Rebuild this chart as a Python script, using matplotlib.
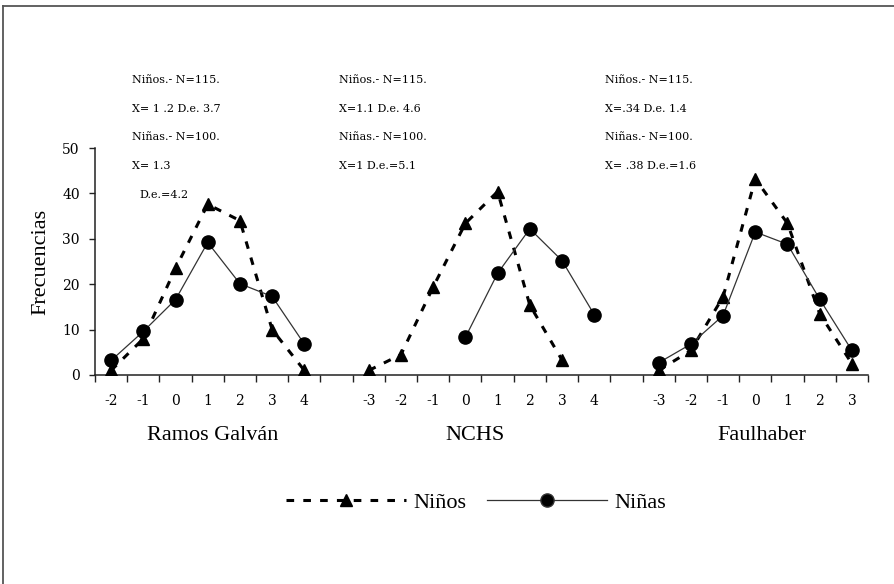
import matplotlib
matplotlib.use("Agg")
import matplotlib.pyplot as plt
from matplotlib.lines import Line2D
import matplotlib.transforms as mtransforms
import numpy as np

# ---------------- data ----------------
ramos_x = [-2, -1, 0, 1, 2, 3, 4]
ramos_ninos = [1, 8, 23.5, 37.6, 34, 10, 1]
ramos_ninas = [3.2, 9.6, 16.6, 29.2, 20.1, 17.3, 6.8]

nchs_x = [-3, -2, -1, 0, 1, 2, 3, 4]
nchs_ninos = [1, 4.5, 19.4, 33.4, 40.4, 15.4, 3.3, None]
nchs_ninas = [None, None, None, 8.3, 22.4, 32.2, 25.2, 13.3]

faul_x = [-3, -2, -1, 0, 1, 2, 3]
faul_ninos = [1, 5.4, 17.2, 43.2, 33.4, 13.5, 2.5]
faul_ninas = [2.7, 6.8, 13.1, 31.5, 28.8, 16.7, 5.4]

group_names = ["Ramos Galván", "NCHS", "Faulhaber"]
group_start = [0, 8, 17]          # category slot where each group begins

notes = [
    ["Niños.- N=115.", "X= 1 .2 D.e. 3.7", "Niñas.- N=100.", "X= 1.3"],
    ["Niños.- N=115.", "X=1.1 D.e. 4.6", "Niñas.- N=100.", "X=1 D.e.=5.1"],
    ["Niños.- N=115.", "X=.34 D.e. 1.4", "Niñas.- N=100.", "X= .38 D.e.=1.6"],
]
extra_note = "D.e.=4.2"

yticks = [0, 10, 20, 30, 40, 50]
n_slots = 24

# ---------------- figure ----------------
W, H = 894, 584
fig = plt.figure(figsize=(W / 100, H / 100), dpi=100)
fig.patch.set_facecolor("white")
ax = fig.add_axes([95 / W, 209 / H, 773 / W, 227 / H])

small_font = "DejaVu Serif"
big_font = "Liberation Serif"
dark = "#222222"

groups = [
    (ramos_x, ramos_ninos, ramos_ninas),
    (nchs_x, nchs_ninos, nchs_ninas),
    (faul_x, faul_ninos, faul_ninas),
]

tick_labels = [""] * n_slots
for (xs, boys, girls), start in zip(groups, group_start):
    pos = [start + (x - xs[0]) for x in xs]
    for p, x in zip(pos, xs):
        tick_labels[p] = str(x)
    bp = [p for p, v in zip(pos, boys) if v is not None]
    bv = [v for v in boys if v is not None]
    gp = [p for p, v in zip(pos, girls) if v is not None]
    gv = [v for v in girls if v is not None]
    ax.plot(bp, bv, color="black", lw=2.2, dashes=(2.5, 3), marker="^",
            markersize=8.5, markerfacecolor="black", markeredgecolor="black",
            zorder=3)
    ax.plot(gp, gv, color="#333333", lw=0.9, marker="o", markersize=9.5,
            markerfacecolor="black", markeredgecolor="black", zorder=4)

ax.set_xlim(-0.5, n_slots - 0.5)
ax.set_ylim(0, 50)
ax.set_yticks(yticks)
ax.set_yticklabels([str(v) for v in yticks], fontfamily=small_font, fontsize=10)

ax.set_xticks(np.arange(-0.5, n_slots, 1.0))
ax.set_xticklabels([])
ax.set_xticks(np.arange(n_slots), minor=True)
ax.set_xticklabels(tick_labels, minor=True, fontfamily=small_font, fontsize=10)
ax.tick_params(axis="x", which="major", direction="out", length=5, width=1,
               color=dark)
ax.tick_params(axis="x", which="minor", length=0, pad=14)
ax.tick_params(axis="y", direction="out", length=4, width=1, color=dark,
               pad=7)

for s in ["top", "right"]:
    ax.spines[s].set_visible(False)
for s in ["left", "bottom"]:
    ax.spines[s].set_color(dark)
    ax.spines[s].set_linewidth(1.1)

ax.set_ylabel("Frecuencias", fontfamily=big_font, fontsize=16)
ax.yaxis.set_label_coords((50 - 95) / 773, 0.5)

trans = mtransforms.blended_transform_factory(ax.transData, ax.transAxes)
label_shift = [0.15, -0.2, 0.2]
for name, start, (xs, _, _), sh in zip(group_names, group_start, groups,
                                       label_shift):
    centre = start + (len(xs) - 1) / 2 + sh
    ax.text(centre, -(436 - 375) / 227, name, transform=trans, ha="center",
            va="center", fontfamily=big_font, fontsize=16)

# annotations
note_x = [132, 339, 605]
note_y = [80, 109, 137.5, 166]
for xpix, lines in zip(note_x, notes):
    for ypix, t in zip(note_y, lines):
        fig.text(xpix / W, 1 - ypix / H, t, ha="left", va="center",
                 fontfamily=small_font, fontsize=8)
fig.text(139 / W, 1 - 195 / H, extra_note, ha="left", va="center",
         fontfamily=small_font, fontsize=8)

# legend
handles = [
    Line2D([], [], color="black", lw=2.2, dashes=(2.5, 3), marker="^",
           markersize=8.5, markerfacecolor="black"),
    Line2D([], [], color="#333333", lw=0.9, marker="o", markersize=9.5,
           markerfacecolor="black"),
]
leg = fig.legend(handles, ["Niños", "Niñas"], loc="center",
                 bbox_to_anchor=(476 / W, 1 - 503 / H), ncol=2, frameon=False,
                 handlelength=5.4, handletextpad=0.35, columnspacing=0.9,
                 numpoints=1, prop={"family": big_font, "size": 16})

# scanned page frame (top and left edges)
fig.add_artist(Line2D([3 / W, 1], [1 - 6 / H, 1 - 6 / H], color="#555555",
                      lw=1.3, transform=fig.transFigure))
fig.add_artist(Line2D([3 / W, 3 / W], [0, 1 - 6 / H], color="#555555",
                      lw=1.3, transform=fig.transFigure))

fig.savefig("out.png", dpi=100)
